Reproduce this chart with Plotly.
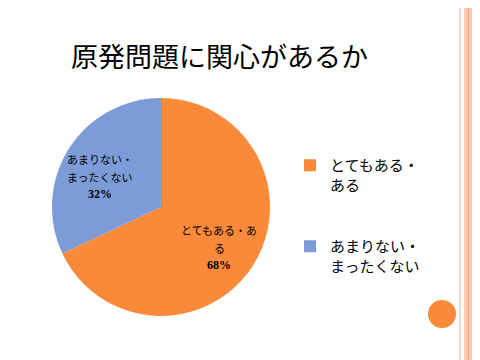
import plotly.graph_objects as go

labels = ["とてもある・<br>ある", "あまりない・<br>まったくない"]
inside_labels = [["とてもある・あ", "る"], ["あまりない・", "まったくない"]]
values = [68, 32]
colors = ["#F98A3A", "#7C9BD7"]
title_text = "原発問題に関心があるか"

W, H = 480, 360
# the page body adds an 8px margin, so layout pixels are offset by 8
cx, cy, r = 153, 199, 109
total = sum(values)
pcts = [round(v / total * 100) for v in values]

fig = go.Figure()
fig.add_trace(go.Pie(
    labels=[l + "<br> <br> " for l in labels],
    values=values,
    sort=False,
    direction="clockwise",
    rotation=0,
    marker=dict(colors=colors, line=dict(width=0)),
    textinfo="none",
    hoverinfo="label+percent",
    domain=dict(x=[(cx - r) / W, (cx + r) / W], y=[(H - cy - r) / H, (H - cy + r) / H]),
))

def px(x):
    return x / W

def py(y):
    return (H - y) / H

shapes = [
    dict(type="rect", xref="paper", yref="paper", x0=px(451), x1=px(453), y0=0, y1=1,
         fillcolor="#F7D9CC", line=dict(width=0)),
    dict(type="rect", xref="paper", yref="paper", x0=px(456), x1=1, y0=0, y1=1,
         fillcolor="#FDCAB3", line=dict(width=0)),
    dict(type="rect", xref="paper", yref="paper", x0=px(460), x1=px(461), y0=0, y1=1,
         fillcolor="#F4A47E", line=dict(width=0)),
    dict(type="circle", xref="paper", yref="paper", x0=px(420), x1=px(448),
         y0=py(320), y1=py(292),
         fillcolor="#F98A3A", line=dict(width=0)),
]

label_pos = [(211, 240), (92, 169)]
line_offsets = [-18, 0, 17]
annotations = [dict(text=title_text, xref="paper", yref="paper",
                    x=px(211), y=py(48), xanchor="center", yanchor="middle",
                    showarrow=False,
                    font=dict(family="Noto Sans CJK JP", size=27, color="#000000"))]
for lines, p, (lx, ly) in zip(inside_labels, pcts, label_pos):
    texts = lines + [f"<b>{p}%</b>"]
    fams = ["Noto Sans CJK JP", "Noto Sans CJK JP", "Liberation Serif"]
    sizes = [11, 11, 12]
    for t, off, fam, sz in zip(texts, line_offsets, fams, sizes):
        annotations.append(dict(
            text=t, xref="paper", yref="paper", x=px(lx), y=py(ly + off),
            xanchor="center", yanchor="middle", align="center", showarrow=False,
            font=dict(family=fam, size=sz, color="#000000")))

fig.update_layout(
    width=W, height=H,
    margin=dict(l=0, r=0, t=0, b=0),
    paper_bgcolor="#FFFFFF",
    plot_bgcolor="#FFFFFF",
    shapes=shapes,
    annotations=annotations,
    legend=dict(x=px(282), y=py(141), xanchor="left", yanchor="top",
                valign="top", bgcolor="rgba(0,0,0,0)",
                font=dict(family="Noto Sans CJK JP", size=15, color="#000000"),
                itemwidth=30, tracegroupgap=0),
    showlegend=True,
)

fig.write_html("out.html")
